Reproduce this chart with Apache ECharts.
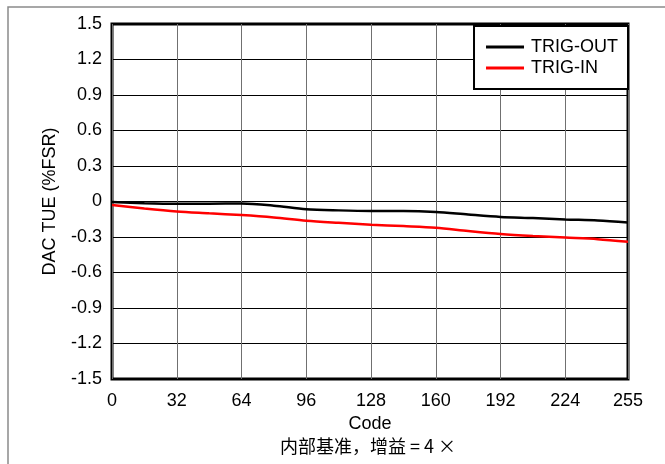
<!DOCTYPE html>
<html>
<head>
<meta charset="UTF-8">
<title>DAC TUE</title>
<style>
  html, body { margin: 0; padding: 0; background: #fff; }
  #container { width: 665px; height: 464px; }
</style>
</head>
<body>
<div id="container"></div>
<script src="https://cdn.jsdelivr.net/npm/echarts@6/dist/echarts.min.js"></script>
<script>
// codes on x axis
var codes = [0, 16, 32, 48, 64, 80, 96, 112, 128, 144, 160, 176, 192, 208, 224, 240, 255];
// TUE values (%FSR)
var trigOut = [-0.005, -0.015, -0.02, -0.018, -0.017, -0.035, -0.065, -0.075, -0.08, -0.08, -0.088, -0.11, -0.13, -0.14, -0.152, -0.16, -0.178];
var trigIn = [-0.03, -0.06, -0.085, -0.1, -0.115, -0.135, -0.162, -0.18, -0.196, -0.208, -0.222, -0.25, -0.275, -0.292, -0.305, -0.318, -0.34];
var seriesNames = ['TRIG-OUT', 'TRIG-IN'];

function pairs(xs, ys) {
  var out = [];
  for (var i = 0; i < xs.length; i++) out.push([xs[i], ys[i]]);
  return out;
}

var font = 'Liberation Sans, Arial, sans-serif';
var myChart = echarts.init(document.getElementById('container'), null, { renderer: 'canvas' });

myChart.setOption({
  animation: false,
  backgroundColor: '#fff',
  graphic: [{
    type: 'rect',
    shape: { x: 8, y: 7, width: 700, height: 500 },
    style: { fill: 'none', stroke: '#8a8a8a', lineWidth: 1.5 },
    z: -1
  }, {
    type: 'text',
    left: 280, top: 437,
    style: {
      text: '内部基准，增益 = 4 ×',
      font: '18px "Noto Sans CJK SC", "Liberation Sans", sans-serif',
      fill: '#000'
    }
  }],
  grid: {
    left: 112, top: 24, right: 37, bottom: 85,
    show: true, borderColor: '#000', borderWidth: 3, backgroundColor: 'transparent'
  },
  legend: {
    data: seriesNames,
    orient: 'vertical',
    right: 37, top: 26,
    padding: [12, 10, 12, 12],
    itemGap: 3,
    itemWidth: 38, itemHeight: 3,
    icon: 'rect',
    backgroundColor: '#fff',
    borderColor: '#000', borderWidth: 2,
    textStyle: { fontFamily: font, fontSize: 18, color: '#000', padding: [0, 0, 0, 2] }
  },
  xAxis: {
    type: 'value',
    min: 0, max: 255, interval: 32,
    name: 'Code',
    nameLocation: 'middle',
    nameGap: 30,
    nameTextStyle: { fontFamily: font, fontSize: 18, color: '#000' },
    axisLine: { show: false },
    axisTick: { show: false },
    axisLabel: { fontFamily: font, fontSize: 18, color: '#000', margin: 13 },
    splitLine: { show: true, lineStyle: { color: '#707070', width: 1 } }
  },
  yAxis: {
    type: 'value',
    min: -1.5, max: 1.5, interval: 0.3,
    name: 'DAC TUE (%FSR)',
    nameLocation: 'middle',
    nameGap: 53,
    nameTextStyle: { fontFamily: font, fontSize: 18, color: '#000' },
    axisLine: { show: false },
    axisTick: { show: false },
    axisLabel: {
      fontFamily: font, fontSize: 18, color: '#000', margin: 10,
      formatter: function (v) { return Math.abs(v) < 1e-9 ? '0' : v.toFixed(1); }
    },
    splitLine: { show: true, lineStyle: { color: '#000', width: 1 } }
  },
  series: [
    {
      name: seriesNames[0], type: 'line', data: pairs(codes, trigOut),
      showSymbol: false, smooth: 0.3,
      lineStyle: { color: '#000', width: 2.5 }, itemStyle: { color: '#000' }
    },
    {
      name: seriesNames[1], type: 'line', data: pairs(codes, trigIn),
      showSymbol: false, smooth: 0.3,
      lineStyle: { color: '#ff0000', width: 2.5 }, itemStyle: { color: '#ff0000' }
    }
  ]
});
</script>
</body>
</html>
